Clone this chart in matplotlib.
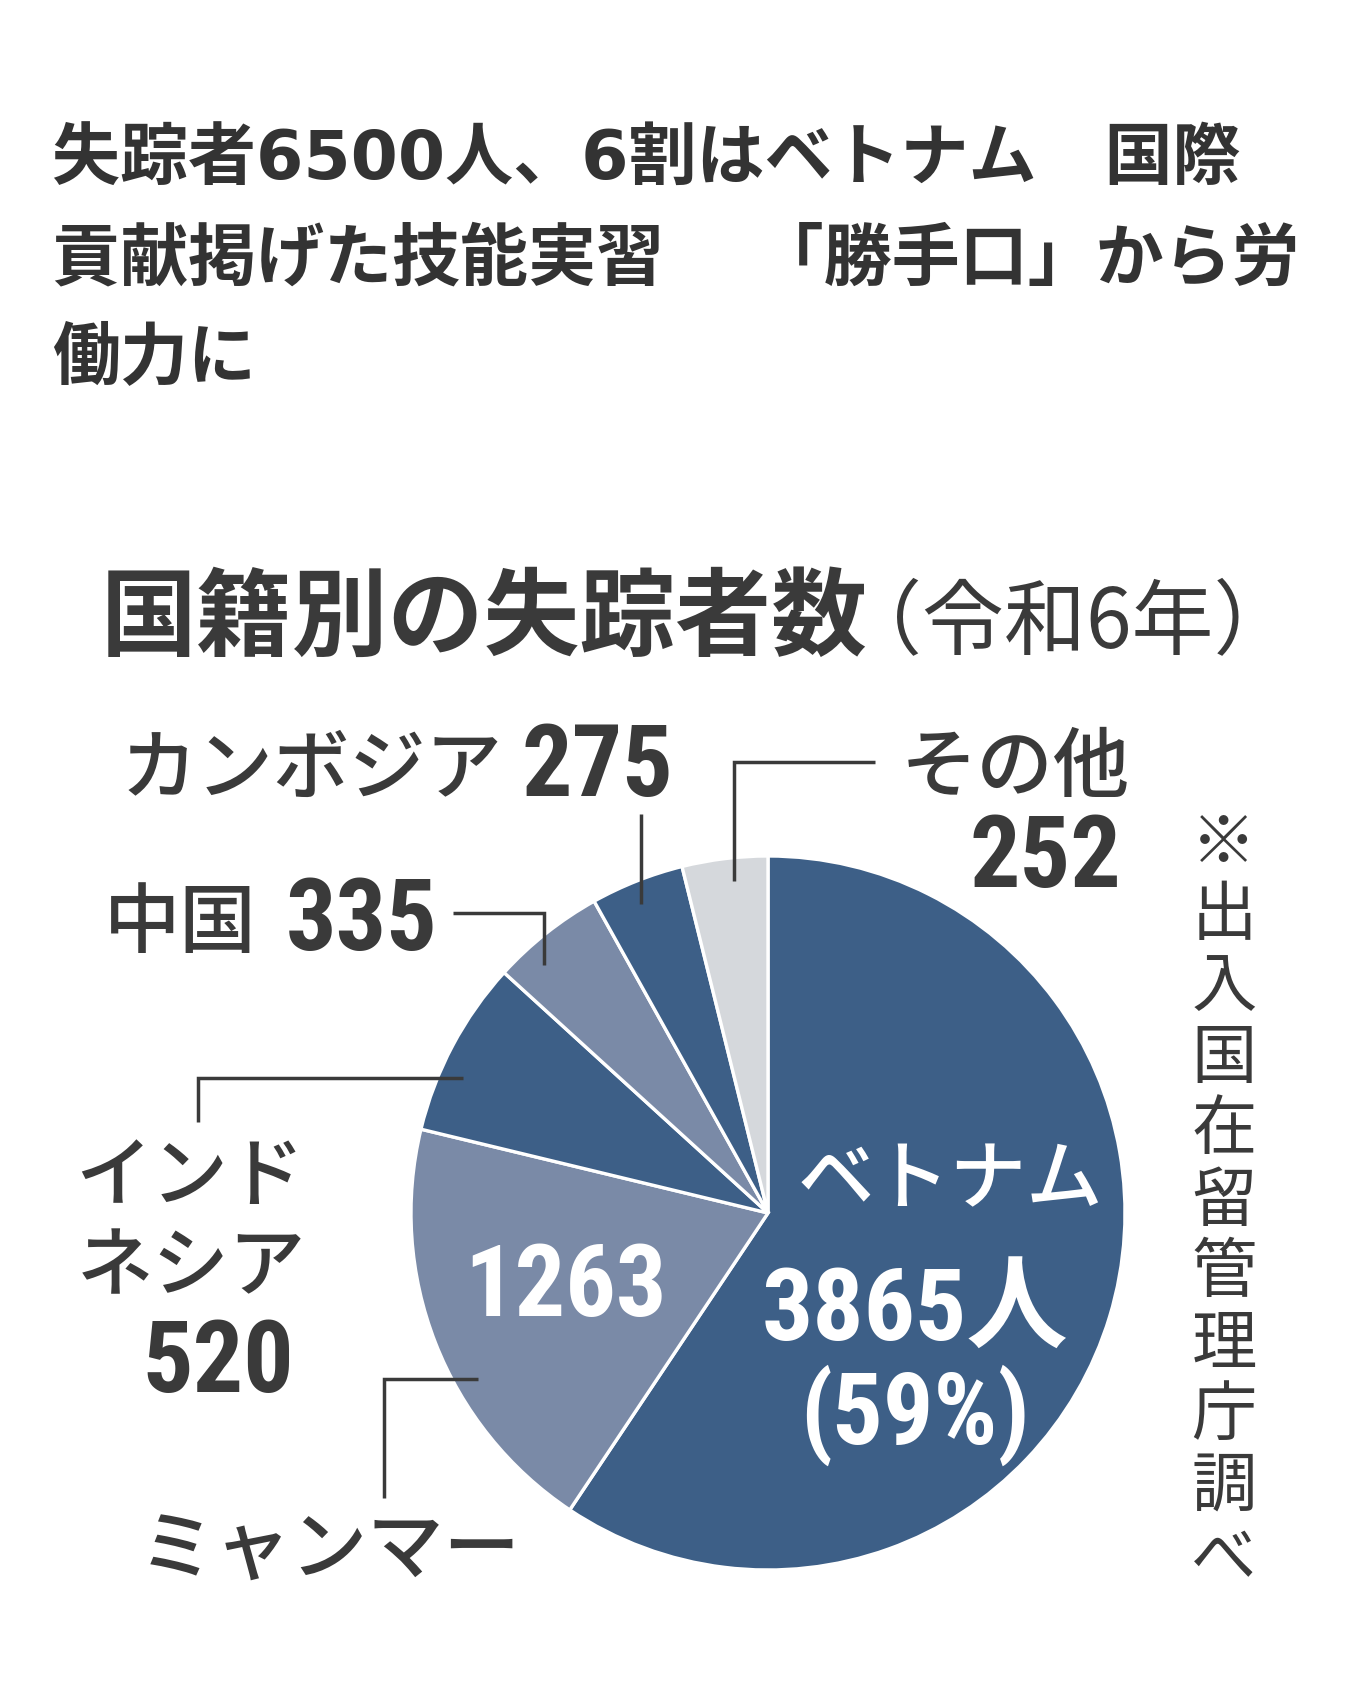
import matplotlib
matplotlib.use('Agg')
import matplotlib.pyplot as plt
from matplotlib import font_manager as fm
import numpy as np

# data
countries = ['ベトナム', 'ミャンマー', 'インドネシア', '中国', 'カンボジア', 'その他']
counts = [3865, 1263, 520, 335, 275, 252]
share_vietnam = '59%'
colors = ['#3d5f87', '#7a8aa7', '#3d5f87', '#7a8aa7', '#3d5f87', '#d5d8dc']

headline = ['失踪者6500人、6割はベトナム　国際',
            '貢献掲げた技能実習　 「勝手口」から労',
            '働力に']
chart_title = '国籍別の失踪者数'
chart_period = '（令和6年）'
source = '※出入国在留管理庁調べ'

W, H = 1350, 1687
JP = 'Noto Sans CJK JP'
INK = '#3a3a3a'


def pick_narrow():
    fonts = fm.fontManager.ttflist
    names = {f.name for f in fonts}
    if 'Roboto Condensed' in names:
        return 'Roboto Condensed', 'normal'
    if 'Liberation Sans Narrow' in names:
        return 'Liberation Sans Narrow', 'normal'
    if any(f.name == 'DejaVu Sans' and f.stretch == 'condensed' for f in fonts):
        return 'DejaVu Sans', 'condensed'
    return 'Roboto', 'normal'


NUM, NUM_STRETCH = pick_narrow()

fig = plt.figure(figsize=(W / 100, H / 100), dpi=100)
ax = fig.add_axes([0, 0, 1, 1])


def txt(x, ytop, s, size, family=JP, weight='medium', color=INK, ha='center', va='baseline', stretch='normal'):
    return ax.text(x, H - ytop, s, fontsize=size, family=family, fontweight=weight,
                   color=color, ha=ha, va=va, fontstretch=stretch)


def num(x, ytop, s, size, color=INK, ha='center'):
    return txt(x, ytop, s, size, family=[NUM, JP], weight='bold', color=color, ha=ha, stretch=NUM_STRETCH)


# pie
wedges, _ = ax.pie(counts, colors=colors, startangle=90, counterclock=False,
                   center=(768, H - 1213), radius=357,
                   wedgeprops=dict(edgecolor='white', linewidth=2.4))
ax.set_xlim(0, W)
ax.set_ylim(0, H)
ax.set_aspect('equal')
ax.axis('off')


def edge_point(w, frac, rfrac=0.935):
    a = np.deg2rad(w.theta1 + frac * (w.theta2 - w.theta1))
    cx, cy = w.center
    return cx + rfrac * w.r * np.cos(a), cy + rfrac * w.r * np.sin(a)


def leader(xs, ys):
    ax.plot(xs, ys, color=INK, lw=2.5, solid_capstyle='butt', solid_joinstyle='miter')


# leader lines
ex, ey = edge_point(wedges[5], 0.42)   # その他
leader([875, ex, ex], [H - 762, H - 762, ey])
ex, ey = edge_point(wedges[4], 0.55)   # カンボジア
leader([ex, ex], [H - 814, ey])
ex, ey = edge_point(wedges[3], 0.70)   # 中国
leader([453, ex, ex], [H - 913, H - 913, ey])
ex, ey = edge_point(wedges[2], 0.64)   # インドネシア
leader([198, 198, ex], [H - 1122, ey, ey])
ex, ey = edge_point(wedges[1], 0.62)   # ミャンマー
leader([384, 384, ex], [H - 1498, ey, ey])

# headline (wide latin digits, CJK from Noto)
for i, line in enumerate(headline):
    txt(52, 180 + i * 99, line, 49, family=['DejaVu Sans', JP], weight='bold',
        color='#333333', ha='left')

# chart title
txt(484, 648, chart_title, 69, weight='bold')
txt(1068, 648, chart_period, 59, weight='normal')

# outside labels
txt(311, 793, countries[4], 55)
num(597, 796, str(counts[4]), 72)
txt(180, 947, countries[3], 55)
num(362, 950, str(counts[3]), 72)
txt(1015, 791, countries[5], 55)
num(1045, 887, str(counts[5]), 72)
txt(190, 1200, countries[2][:3], 55)
txt(191, 1290, countries[2][3:], 55)
num(218, 1392, str(counts[2]), 72)
txt(330, 1574, countries[1], 55)

# inside labels
num(566, 1316, str(counts[1]), 72, color='white')
txt(950, 1203, countries[0], 55, color='white')
num(915, 1340, f'{counts[0]}人', 73, color='white')
num(915, 1444, f'({share_vietnam})', 72, color='white')

# source, set vertically
for i, ch in enumerate(source):
    txt(1224, 845 + i * 71.5, ch, 47, weight='normal', va='center')

fig.savefig('out.png', dpi=100, facecolor='white')
